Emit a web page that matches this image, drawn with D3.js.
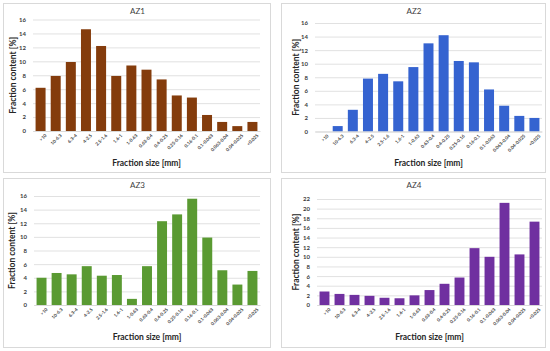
<!DOCTYPE html>
<html><head><meta charset="utf-8">
<script src="https://cdn.jsdelivr.net/npm/d3@7"></script>
<style>body{margin:0;background:#fff}svg{display:block;font-family:Lato,"Open Sans",sans-serif}</style>
</head><body><svg id="c" width="550" height="351"></svg>
<script>
const categories = [">10","10-6.3","6.3-4","4-2.5","2.5-1.6","1.6-1","1-0.63","0.63-0.4","0.4-0.25","0.25-0.16","0.16-0.1","0.1-0.063","0.063-0.04","0.04-0.025","<0.025"];
const az1 = [6.2,7.9,9.9,14.6,12.2,7.9,9.4,8.8,7.4,5.1,4.8,2.3,1.3,0.7,1.3];
const az2 = [0,0.8,3.2,7.8,8.5,7.4,9.5,13.0,14.2,10.4,10.2,6.2,3.8,2.3,2.0];
const az3 = [4.0,4.7,4.5,5.7,4.3,4.4,0.9,5.7,12.3,13.3,15.6,9.9,5.1,3.0,5.0];
const az4 = [2.8,2.3,2.1,1.9,1.5,1.4,2.0,3.1,4.4,5.7,11.8,10.0,21.2,10.5,17.3];
const titles = ["AZ1","AZ2","AZ3","AZ4"];
const yTicks16 = [0,2,4,6,8,10,12,14,16];
const yTicks22 = [0,2,4,6,8,10,12,14,16,18,20,22];
const xTitle = "Fraction size [mm]";
const yTitle = "Fraction content [%]";

const panels = [
  {title:titles[0], data:az1, ticks:yTicks16, color:"#843C0C", box:[3,3,270,172], plot:[33,260,19.5,131], ty:12, yt:14},
  {title:titles[1], data:az2, ticks:yTicks16, color:"#3563D0", box:[281,3,545,172], plot:[315,542,23,131.5], ty:12, yt:297},
  {title:titles[2], data:az3, ticks:yTicks16, color:"#5A9A32", box:[3,178,270,347], plot:[34,260,196,305], ty:186, yt:13},
  {title:titles[3], data:az4, ticks:yTicks22, color:"#7030A0", box:[281,178,545,347], plot:[317,542,199,305], ty:186, yt:297}
];
const svg = d3.select("#c");
panels.forEach(p => {
  const [bx0,by0,bx1,by1] = p.box;
  const [l,r,t,b] = p.plot;
  svg.append("rect").attr("x",bx0+0.5).attr("y",by0+0.5).attr("width",bx1-bx0).attr("height",by1-by0)
    .attr("fill","#fff").attr("stroke","#d9d9d9").attr("stroke-width",1);
  const x = d3.scaleBand().domain(categories).range([l,r]).paddingInner(0.34).paddingOuter(0.17);
  const ymax = d3.max(p.ticks);
  const y = d3.scaleLinear().domain([0,ymax]).range([b,t]);
  const g = svg.append("g");
  const yAxis = d3.axisLeft(y).tickValues(p.ticks).tickSize(-(r-l)).tickPadding(7).tickFormat(d3.format("d"));
  const ga = g.append("g").attr("transform",`translate(${l},0)`).call(yAxis);
  ga.select(".domain").remove();
  ga.selectAll(".tick line").attr("stroke","#d9d9d9").attr("stroke-width",0.8);
  ga.selectAll(".tick text").attr("fill","#404040").attr("font-size",6).attr("font-weight","bold").attr("font-family","Lato, sans-serif");
  g.append("g").selectAll("rect").data(p.data).join("rect")
    .attr("x",(d,i)=>x(categories[i])).attr("width",x.bandwidth())
    .attr("y",d=>y(d)).attr("height",d=>b-y(d)).attr("fill",p.color);
  const xAxis = d3.axisBottom(x).tickSize(0).tickPadding(3);
  const gx = g.append("g").attr("transform",`translate(0,${b})`).call(xAxis);
  gx.select(".domain").attr("stroke","#d9d9d9");
  gx.selectAll(".tick text").attr("fill","#404040").attr("font-size",4.6).attr("font-weight","bold")
    .attr("font-family","Lato, sans-serif")
    .attr("text-anchor","end").attr("dy","0.3em").attr("dx","0.1em")
    .attr("transform","translate(3,2) rotate(-45)");
  svg.append("text").attr("x",(bx0+bx1)/2+1).attr("y",p.ty).attr("text-anchor","middle").attr("dominant-baseline","middle")
    .attr("font-size",8).attr("fill","#404040").text(p.title);
  svg.append("text").attr("x",(l+r)/2).attr("y",p.ty+152).attr("text-anchor","middle").attr("dominant-baseline","middle")
    .attr("font-size",8.5).attr("font-weight","bold").attr("fill","#262626").text(xTitle);
  svg.append("text").attr("transform",`translate(${p.yt},${(t+b)/2}) rotate(-90)`).attr("text-anchor","middle").attr("dominant-baseline","middle")
    .attr("font-size",8.5).attr("font-weight","bold").attr("fill","#262626").text(yTitle);
});
</script></body></html>
